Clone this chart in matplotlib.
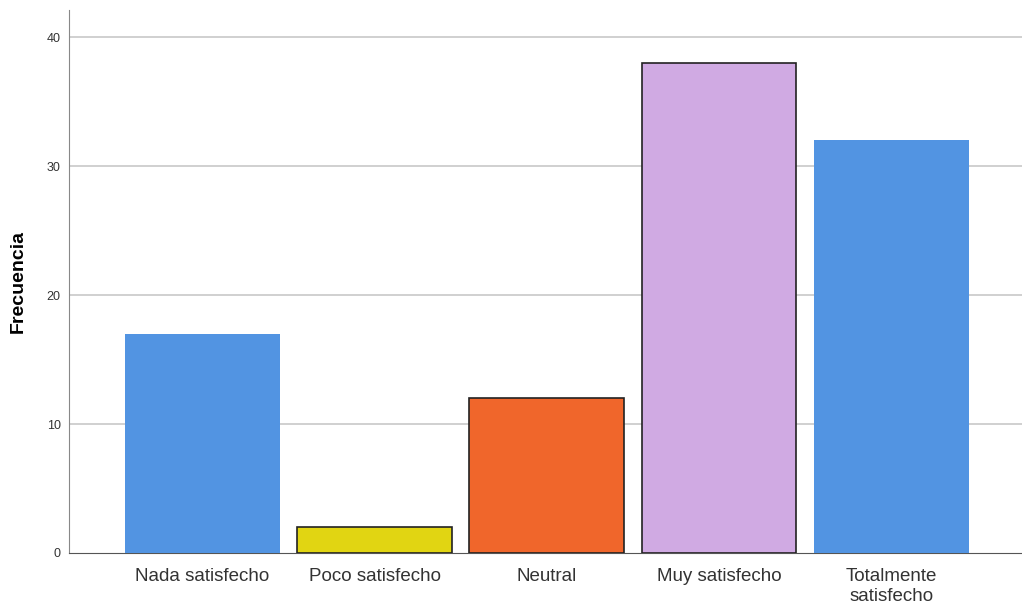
import matplotlib.pyplot as plt

# Satisfaction frequencies
categories = ['Nada satisfecho', 'Poco satisfecho', 'Neutral', 'Muy satisfecho', 'Totalmente\nsatisfecho']
frecuencia = [17, 2, 12, 38, 32]
colors = ['#5294e2', '#e1d512', '#f0662b', '#d0aae3', '#5294e2']
edges = ['none', '#222222', '#222222', '#222222', 'none']
y_ticks = [0, 10, 20, 30, 40]

plt.rcParams['font.family'] = ['Liberation Sans', 'DejaVu Sans']

fig = plt.figure(figsize=(10.22, 6.05), dpi=100)
ax = fig.add_axes([0.0675, 0.086, 0.9325, 0.897])

x = range(len(categories))
for i in x:
    ax.bar(i, frecuencia[i], width=0.9, color=colors[i], edgecolor=edges[i], linewidth=1.2, zorder=3)

ax.set_xlim(-0.776, 4.76)
ax.set_ylim(0, 42.1)
ax.set_yticks(y_ticks)
ax.set_yticklabels([str(v) for v in y_ticks], fontsize=9, color='#333333')
ax.set_xticks(list(x))
ax.set_xticklabels(categories, fontsize=13.5, color='#333333', linespacing=1.2)
ax.tick_params(axis='both', length=0, pad=6)
ax.tick_params(axis='x', pad=11)

for v in y_ticks[1:]:
    ax.axhline(v, color='#c8c8c8', linewidth=1.2, zorder=1)

ax.set_ylabel('Frecuencia', fontsize=14, fontweight='bold', labelpad=14)

for side in ['top', 'right']:
    ax.spines[side].set_visible(False)
ax.spines['left'].set_color('#888888')
ax.spines['bottom'].set_color('#555555')

fig.savefig('out.png', dpi=100)
